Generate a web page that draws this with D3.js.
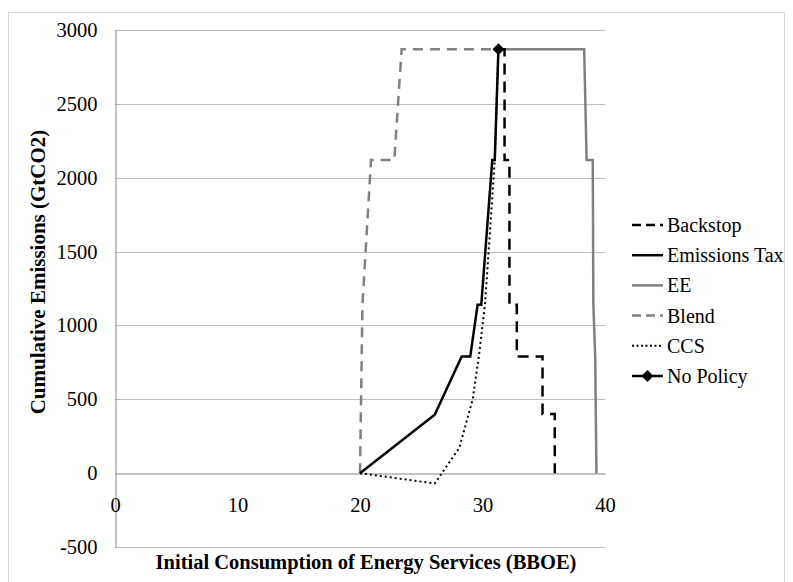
<!DOCTYPE html>
<html><head><meta charset="utf-8">
<script src="https://cdn.jsdelivr.net/npm/d3@7"></script>
<style>body{margin:0;background:#fff}svg{display:block}</style>
</head><body>
<svg id="c" width="793" height="582"></svg>
<script>
const xTicks = [0, 10, 20, 30, 40];
const yTicks = [-500, 0, 500, 1000, 1500, 2000, 2500, 3000];
const seriesNames = ["Backstop", "Emissions Tax", "EE", "Blend", "CCS", "No Policy"];
const backstopX = [31.5, 31.8, 31.8, 32.2, 32.2, 32.8, 32.8, 34.9, 34.9, 35.9, 35.9];
const backstopY = [2870, 2870, 2120, 2120, 1140, 1140, 790, 790, 400, 400, 0];
const taxX = [20, 26.1, 28.3, 29.0, 29.6, 29.9, 30.8, 31.0, 31.3];
const taxY = [0, 395, 790, 790, 1140, 1140, 2120, 2120, 2870];
const eeX = [31.3, 38.3, 38.5, 39.0, 39.05, 39.2, 39.3];
const eeY = [2870, 2870, 2120, 2120, 1140, 790, 0];
const blendX = [20.0, 20.2, 20.9, 22.8, 23.4, 31.3];
const blendY = [0, 1140, 2120, 2120, 2870, 2870];
const ccsX = [20, 26.1, 28.1, 29.2, 29.7, 30.2, 30.6, 31.0, 31.3];
const ccsY = [0, -70, 170, 500, 790, 1140, 1620, 2120, 2870];
const noPolicyX = [31.3];
const noPolicyY = [2870];

const FONT = '"Liberation Serif"';
const svg = d3.select("#c");
const pL = 115, pR = 605, pT = 30, pB = 547;
const x = d3.scaleLinear().domain([0, 40]).range([pL, pR]);
const y = d3.scaleLinear().domain([-500, 3000]).range([pB, pT]);

// outer border
svg.append("rect").attr("x", 8.5).attr("y", 12.5).attr("width", 776).attr("height", 600)
  .attr("fill", "none").attr("stroke", "#d9d9d9").attr("stroke-width", 1);

// gridlines
svg.append("g").selectAll("line").data(yTicks.filter(d => d !== 0)).join("line")
  .attr("x1", pL).attr("x2", pR).attr("y1", d => Math.round(y(d)) + 0.5).attr("y2", d => Math.round(y(d)) + 0.5)
  .attr("stroke", "#bfbfbf").attr("stroke-width", 1);

// y axis
const yAxis = svg.append("g").attr("transform", `translate(${pL + 0.5},0)`)
  .call(d3.axisLeft(y).tickValues(yTicks).tickSize(0).tickPadding(18).tickFormat(d => String(d)));
yAxis.select(".domain").attr("stroke", "#868686");
yAxis.selectAll("text").attr("font-size", 20.5).attr("fill", "#000").style("font-family", FONT);

// x axis at y=0
const xAxis = svg.append("g").attr("transform", `translate(0,${Math.round(y(0)) + 0.5})`)
  .call(d3.axisBottom(x).tickValues(xTicks).tickSize(0).tickPadding(24).tickFormat(d => String(d)));
xAxis.select(".domain").attr("stroke", "#868686");
xAxis.selectAll("text").attr("font-size", 20.5).attr("fill", "#000").style("font-family", FONT);

// series
const line = d3.line().x(d => x(d[0])).y(d => y(d[1]));
const zip = (a, b) => a.map((v, i) => [v, b[i]]);
const styles = [
  {name: "Backstop", data: zip(backstopX, backstopY), color: "#000", dash: "11,7", w: 2.5},
  {name: "Emissions Tax", data: zip(taxX, taxY), color: "#000", dash: null, w: 2.5},
  {name: "EE", data: zip(eeX, eeY), color: "#808080", dash: null, w: 2.5},
  {name: "Blend", data: zip(blendX, blendY), color: "#808080", dash: "10,7", w: 2.5},
  {name: "CCS", data: zip(ccsX, ccsY), color: "#000", dash: "2,3", w: 2},
  {name: "No Policy", data: zip(noPolicyX, noPolicyY), color: "#000", dash: null, w: 2.5, marker: true}
];
const order = ["EE", "Blend", "CCS", "Backstop", "Emissions Tax", "No Policy"];
order.forEach(n => {
  const s = styles.find(t => t.name === n);
  svg.append("path").attr("d", line(s.data)).attr("fill", "none")
    .attr("stroke", s.color).attr("stroke-width", s.w)
    .attr("stroke-dasharray", s.dash).attr("stroke-linejoin", "miter");
  if (s.marker) {
    svg.selectAll(null).data(s.data).join("path")
      .attr("transform", d => `translate(${x(d[0])},${y(d[1])})`)
      .attr("d", d3.symbol(d3.symbolDiamond2, 90)()).attr("fill", "#000");
  }
});

// legend
const lg = svg.append("g");
styles.forEach((s, i) => {
  const yy = 225 + i * 30.2;
  lg.append("line").attr("x1", 632).attr("x2", 663).attr("y1", yy).attr("y2", yy)
    .attr("stroke", s.color).attr("stroke-width", s.w).attr("stroke-dasharray", s.dash === "2,3" ? "2,2.5" : "9,5");
  if (!s.dash) lg.select("line:last-child").attr("stroke-dasharray", null);
  if (s.marker) lg.append("path").attr("transform", `translate(647.5,${yy})`)
    .attr("d", d3.symbol(d3.symbolDiamond2, 90)()).attr("fill", "#000");
  lg.append("text").attr("x", 667).attr("y", yy + 7).attr("font-size", 20).style("font-family", FONT).text(s.name);
});

// axis titles
svg.append("text").attr("x", (pL + pR) / 2 + 6).attr("y", 569).attr("text-anchor", "middle")
  .style("font-family", FONT).attr("font-size", 20.5).attr("font-weight", "bold").text("Initial Consumption of Energy Services (BBOE)");
svg.append("text").attr("transform", `translate(45,272) rotate(-90)`)
  .attr("text-anchor", "middle").style("font-family", FONT).attr("font-size", 21).attr("font-weight", "bold").text("Cumulative Emissions (GtCO2)");
</script>
</body></html>
